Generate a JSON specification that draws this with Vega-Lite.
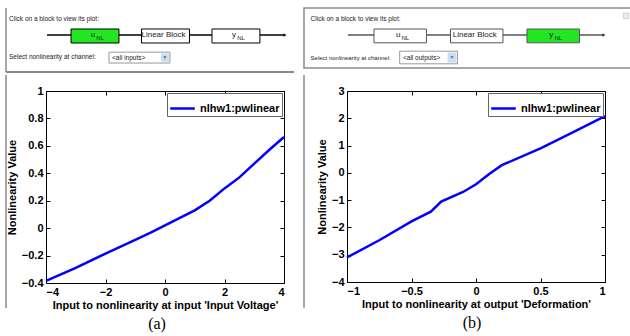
{
  "$schema": "https://vega.github.io/schema/vega-lite/v6.json",
  "padding": {"left": 4, "top": 7, "right": 0, "bottom": 0},
  "background": "white",
  "config": {
    "font": "Liberation Sans",
    "view": {"stroke": "black", "strokeWidth": 1},
    "axis": {
      "grid": false, "domain": false,
      "labelFont": "Liberation Sans", "labelFontSize": 11, "labelFontWeight": "bold", "labelColor": "black",
      "titleFont": "Liberation Sans", "titleFontSize": 11, "titleFontWeight": "bold", "titleColor": "black",
      "tickColor": "black", "tickSize": -4, "labelPadding": 7, "format": "~g"
    },
    "text": {"font": "Liberation Sans", "fontSize": 7, "color": "#222"}
  },
  "resolve": {"scale": {"color": "independent", "fill": "independent"}, "legend": {"color": "independent"}},
  "spacing": 0,
  "vconcat": [
    {
      "spacing": 1,
      "resolve": {"scale": {"fill": "independent"}},
      "hconcat": [
        {
          "width": 256, "height": 64,
          "view": {"stroke": null},
          "resolve": {"scale": {"x": "independent"}},
          "layer": [
            {
              "data": {"values": [{"edge": "left"}]},
              "mark": {"type": "rule", "color": "#8a8a8a", "strokeWidth": 1.5},
              "encoding": {
                "x": {"datum": -0.15625, "type": "quantitative", "scale": {"domain": [0, 1], "nice": false, "zero": false}, "axis": null},
                "y": {"datum": 0, "type": "quantitative", "scale": {"domain": [0, 1], "nice": false, "zero": false}, "axis": null},
                "y2": {"datum": 1}
              }
            },
            {
              "data": {"values": [{"edge": "bottom"}]},
              "mark": {"type": "rule", "color": "#8a8a8a", "strokeWidth": 2},
              "encoding": {
                "x": {"datum": -0.15625, "type": "quantitative", "scale": {"domain": [0, 1], "nice": false, "zero": false}, "axis": null},
                "x2": {"datum": 0.969},
                "y": {"datum": 0, "type": "quantitative"}
              }
            },
            {
              "data": {"values": [{"seg": "wire"}]},
              "mark": {"type": "rule", "color": "black", "strokeWidth": 1.5},
              "encoding": {
                "x": {"datum": 0.004, "type": "quantitative", "scale": {"domain": [0, 1], "nice": false, "zero": false}, "axis": null},
                "x2": {"datum": 0.934},
                "y": {"datum": 0.578, "type": "quantitative"}
              }
            },
            {
              "data": {"values": [{"seg": "arrow"}]},
              "mark": {"type": "point", "shape": "triangle-right", "filled": true, "color": "black", "size": 14},
              "encoding": {
                "x": {"datum": 0.934, "type": "quantitative", "scale": {"domain": [0, 1], "nice": false, "zero": false}, "axis": null},
                "y": {"datum": 0.578, "type": "quantitative"}
              }
            },
            {
              "data": {"values": [
                {"block": "u", "main": "u", "sub": "NL", "sel": "yes"},
                {"block": "lin", "main": "Linear Block", "sub": "", "sel": "no"},
                {"block": "y", "main": "y", "sub": "NL", "sel": "no"}
              ]},
              "layer": [
                {
                  "mark": {"type": "bar", "stroke": "black", "strokeWidth": 1},
                  "encoding": {
                    "x": {"field": "block", "type": "nominal", "sort": null, "scale": {"paddingInner": 0.32, "paddingOuter": 0.476, "align": 0.373}, "axis": null},
                    "y": {"datum": 0.453, "type": "quantitative"},
                    "y2": {"datum": 0.672},
                    "fill": {"field": "sel", "type": "nominal", "scale": {"domain": ["yes", "no"], "range": ["#22e622", "white"]}, "legend": null}
                  }
                },
                {
                  "mark": {"type": "text", "fontSize": 8, "dx": -2, "dy": -1},
                  "encoding": {
                    "x": {"field": "block", "type": "nominal", "sort": null, "axis": null},
                    "y": {"datum": 0.562, "type": "quantitative"},
                    "text": {"field": "main"}
                  }
                },
                {
                  "mark": {"type": "text", "fontSize": 6, "dx": 5, "dy": 2},
                  "encoding": {
                    "x": {"field": "block", "type": "nominal", "sort": null, "axis": null},
                    "y": {"datum": 0.562, "type": "quantitative"},
                    "text": {"field": "sub"}
                  }
                }
              ]
            },
            {
              "data": {"values": [{"t": "Click on a block to view its plot:"}]},
              "mark": {"type": "text", "align": "left", "fontSize": 6.5},
              "encoding": {
                "x": {"datum": -0.1445, "type": "quantitative", "scale": {"domain": [0, 1], "nice": false, "zero": false}, "axis": null},
                "y": {"datum": 0.828, "type": "quantitative"},
                "text": {"field": "t"}
              }
            },
            {
              "data": {"values": [{"t": "Select nonlinearity at channel:"}]},
              "mark": {"type": "text", "align": "left", "fontSize": 6.5},
              "encoding": {
                "x": {"datum": -0.1445, "type": "quantitative", "scale": {"domain": [0, 1], "nice": false, "zero": false}, "axis": null},
                "y": {"datum": 0.23, "type": "quantitative"},
                "text": {"field": "t"}
              }
            },
            {
              "data": {"values": [{"part": "box"}]},
              "mark": {"type": "rect", "fill": "white", "stroke": "#999", "strokeWidth": 1},
              "encoding": {
                "x": {"datum": 0.246, "type": "quantitative", "scale": {"domain": [0, 1], "nice": false, "zero": false}, "axis": null},
                "x2": {"datum": 0.484},
                "y": {"datum": 0.14, "type": "quantitative"},
                "y2": {"datum": 0.31}
              }
            },
            {
              "data": {"values": [{"part": "button"}]},
              "mark": {"type": "rect", "fill": "#c8dff5"},
              "encoding": {
                "x": {"datum": 0.449, "type": "quantitative", "scale": {"domain": [0, 1], "nice": false, "zero": false}, "axis": null},
                "x2": {"datum": 0.48},
                "y": {"datum": 0.16, "type": "quantitative"},
                "y2": {"datum": 0.29}
              }
            },
            {
              "data": {"values": [{"part": "caret"}]},
              "mark": {"type": "point", "shape": "triangle-down", "filled": true, "color": "#333", "size": 10},
              "encoding": {
                "x": {"datum": 0.4645, "type": "quantitative", "scale": {"domain": [0, 1], "nice": false, "zero": false}, "axis": null},
                "y": {"datum": 0.225, "type": "quantitative"}
              }
            },
            {
              "data": {"values": [{"t": "<all inputs>"}]},
              "mark": {"type": "text", "align": "left", "fontSize": 6.5},
              "encoding": {
                "x": {"datum": 0.258, "type": "quantitative", "scale": {"domain": [0, 1], "nice": false, "zero": false}, "axis": null},
                "y": {"datum": 0.225, "type": "quantitative"},
                "text": {"field": "t"}
              }
            }
          ]
        },
        {
          "width": 330, "height": 60,
          "view": {"stroke": "#8a8a8a", "strokeWidth": 1.5},
          "resolve": {"scale": {"x": "independent"}},
          "layer": [
            {
              "data": {"values": [{"seg": "wire"}]},
              "mark": {"type": "rule", "color": "black", "strokeWidth": 1},
              "encoding": {
                "x": {"datum": 0.133, "type": "quantitative", "scale": {"domain": [0, 1], "nice": false, "zero": false}, "axis": null},
                "x2": {"datum": 0.909},
                "y": {"datum": 0.55, "type": "quantitative", "scale": {"domain": [0, 1], "nice": false, "zero": false}, "axis": null}
              }
            },
            {
              "data": {"values": [{"seg": "arrow"}]},
              "mark": {"type": "point", "shape": "triangle-right", "filled": true, "color": "black", "size": 12},
              "encoding": {
                "x": {"datum": 0.909, "type": "quantitative", "scale": {"domain": [0, 1], "nice": false, "zero": false}, "axis": null},
                "y": {"datum": 0.55, "type": "quantitative"}
              }
            },
            {
              "data": {"values": [
                {"block": "u", "main": "u", "sub": "NL", "sel": "no"},
                {"block": "lin", "main": "Linear Block", "sub": "", "sel": "no"},
                {"block": "y", "main": "y", "sub": "NL", "sel": "yes"}
              ]},
              "layer": [
                {
                  "mark": {"type": "bar", "stroke": "#555", "strokeWidth": 1},
                  "encoding": {
                    "x": {"field": "block", "type": "nominal", "sort": null, "scale": {"paddingInner": 0.314, "paddingOuter": 0.814, "align": 0.562}, "axis": null},
                    "y": {"datum": 0.42, "type": "quantitative"},
                    "y2": {"datum": 0.65},
                    "fill": {"field": "sel", "type": "nominal", "scale": {"domain": ["yes", "no"], "range": ["#22e622", "white"]}, "legend": null}
                  }
                },
                {
                  "mark": {"type": "text", "fontSize": 8, "dx": -2, "dy": -1},
                  "encoding": {
                    "x": {"field": "block", "type": "nominal", "sort": null, "axis": null},
                    "y": {"datum": 0.535, "type": "quantitative"},
                    "text": {"field": "main"}
                  }
                },
                {
                  "mark": {"type": "text", "fontSize": 6, "dx": 5, "dy": 2},
                  "encoding": {
                    "x": {"field": "block", "type": "nominal", "sort": null, "axis": null},
                    "y": {"datum": 0.535, "type": "quantitative"},
                    "text": {"field": "sub"}
                  }
                }
              ]
            },
            {
              "data": {"values": [{"t": "Click on a block to view its plot:"}]},
              "mark": {"type": "text", "align": "left", "fontSize": 6.5},
              "encoding": {
                "x": {"datum": 0.02, "type": "quantitative", "scale": {"domain": [0, 1], "nice": false, "zero": false}, "axis": null},
                "y": {"datum": 0.817, "type": "quantitative"},
                "text": {"field": "t"}
              }
            },
            {
              "data": {"values": [{"t": "Select nonlinearity at channel:"}]},
              "mark": {"type": "text", "align": "left", "fontSize": 6},
              "encoding": {
                "x": {"datum": 0.02, "type": "quantitative", "scale": {"domain": [0, 1], "nice": false, "zero": false}, "axis": null},
                "y": {"datum": 0.175, "type": "quantitative"},
                "text": {"field": "t"}
              }
            },
            {
              "data": {"values": [{"part": "box"}]},
              "mark": {"type": "rect", "fill": "white", "stroke": "#999", "strokeWidth": 1},
              "encoding": {
                "x": {"datum": 0.29, "type": "quantitative", "scale": {"domain": [0, 1], "nice": false, "zero": false}, "axis": null},
                "x2": {"datum": 0.465},
                "y": {"datum": 0.07, "type": "quantitative"},
                "y2": {"datum": 0.28}
              }
            },
            {
              "data": {"values": [{"part": "button"}]},
              "mark": {"type": "rect", "fill": "#c8dff5"},
              "encoding": {
                "x": {"datum": 0.435, "type": "quantitative", "scale": {"domain": [0, 1], "nice": false, "zero": false}, "axis": null},
                "x2": {"datum": 0.462},
                "y": {"datum": 0.09, "type": "quantitative"},
                "y2": {"datum": 0.26}
              }
            },
            {
              "data": {"values": [{"part": "caret"}]},
              "mark": {"type": "point", "shape": "triangle-down", "filled": true, "color": "#333", "size": 10},
              "encoding": {
                "x": {"datum": 0.4485, "type": "quantitative", "scale": {"domain": [0, 1], "nice": false, "zero": false}, "axis": null},
                "y": {"datum": 0.175, "type": "quantitative"}
              }
            },
            {
              "data": {"values": [{"t": "<all outputs>"}]},
              "mark": {"type": "text", "align": "left", "fontSize": 6.5},
              "encoding": {
                "x": {"datum": 0.3, "type": "quantitative", "scale": {"domain": [0, 1], "nice": false, "zero": false}, "axis": null},
                "y": {"datum": 0.175, "type": "quantitative"},
                "text": {"field": "t"}
              }
            },
            {
              "data": {"values": [{"part": "corner"}]},
              "mark": {"type": "point", "shape": "square", "filled": true, "color": "#e6e6e6", "stroke": "#888", "strokeWidth": 0.5, "size": 30},
              "encoding": {
                "x": {"datum": 0.976, "type": "quantitative", "scale": {"domain": [0, 1], "nice": false, "zero": false}, "axis": null},
                "y": {"datum": 0.87, "type": "quantitative"}
              }
            }
          ]
        }
      ]
    },
    {
      "spacing": 9,
      "resolve": {"scale": {"color": "independent"}, "legend": {"color": "independent"}},
      "hconcat": [
        {
          "width": 238, "height": 192,
          "data": {"values": [
            {"x": -4, "y": -0.385, "series": "nlhw1:pwlinear"},
            {"x": -3, "y": -0.29, "series": "nlhw1:pwlinear"},
            {"x": -2, "y": -0.185, "series": "nlhw1:pwlinear"},
            {"x": -1, "y": -0.085, "series": "nlhw1:pwlinear"},
            {"x": -0.5, "y": -0.035, "series": "nlhw1:pwlinear"},
            {"x": 0, "y": 0.02, "series": "nlhw1:pwlinear"},
            {"x": 0.5, "y": 0.075, "series": "nlhw1:pwlinear"},
            {"x": 1, "y": 0.13, "series": "nlhw1:pwlinear"},
            {"x": 1.5, "y": 0.2, "series": "nlhw1:pwlinear"},
            {"x": 2, "y": 0.29, "series": "nlhw1:pwlinear"},
            {"x": 2.5, "y": 0.37, "series": "nlhw1:pwlinear"},
            {"x": 3, "y": 0.47, "series": "nlhw1:pwlinear"},
            {"x": 3.5, "y": 0.57, "series": "nlhw1:pwlinear"},
            {"x": 4, "y": 0.665, "series": "nlhw1:pwlinear"}
          ]},
          "title": {"text": "(a)", "orient": "bottom", "font": "Liberation Serif", "fontSize": 16, "fontWeight": "normal", "color": "black", "anchor": "middle", "frame": "group", "dx": -8, "offset": 6},
          "resolve": {"axis": {"x": "independent", "y": "independent"}},
          "layer": [
            {
              "mark": {"type": "line", "strokeWidth": 2.5},
              "encoding": {
                "x": {"field": "x", "type": "quantitative", "scale": {"domain": [-4, 4], "nice": false, "zero": false},
                      "axis": {"orient": "bottom", "values": [-4, -2, 0, 2, 4], "title": "Input to nonlinearity at input 'Input Voltage'", "titlePadding": 2}},
                "y": {"field": "y", "type": "quantitative", "scale": {"domain": [-0.4, 1], "nice": false, "zero": false},
                      "axis": {"orient": "left", "values": [-0.4, -0.2, 0, 0.2, 0.4, 0.6, 0.8, 1], "title": "Nonlinearity Value", "titlePadding": 4}},
                "color": {"field": "series", "type": "nominal", "scale": {"range": ["#0000ff"]},
                          "legend": {"orient": "top-right", "offset": 2, "title": null, "strokeColor": "#666", "fillColor": "white", "padding": 2,
                                     "symbolType": "stroke", "symbolSize": 600, "symbolStrokeWidth": 2.5,
                                     "labelFont": "Liberation Sans", "labelFontSize": 11, "labelFontWeight": "bold", "labelColor": "black"}}
              }
            },
            {
              "mark": {"type": "line", "opacity": 0},
              "encoding": {
                "x": {"field": "x", "type": "quantitative", "axis": {"orient": "top", "values": [-4, -2, 0, 2, 4], "labels": false, "title": null}},
                "y": {"field": "y", "type": "quantitative", "axis": {"orient": "right", "values": [-0.4, -0.2, 0, 0.2, 0.4, 0.6, 0.8, 1], "labels": false, "title": null}}
              }
            },
            {
              "data": {"values": [{"edge": "panel-left"}]},
              "mark": {"type": "rule", "color": "#8a8a8a", "strokeWidth": 1.5},
              "encoding": {
                "x": {"datum": -5.3445, "type": "quantitative", "axis": null},
                "y": {"datum": 1.1167, "type": "quantitative", "axis": null},
                "y2": {"datum": -0.5823}
              }
            },
            {
              "data": {"values": [{"edge": "panel-divider"}]},
              "mark": {"type": "rule", "color": "#8a8a8a", "strokeWidth": 1.5},
              "encoding": {
                "x": {"datum": 4.6723, "type": "quantitative", "axis": null},
                "y": {"datum": 1.1167, "type": "quantitative", "axis": null},
                "y2": {"datum": -0.5823}
              }
            }
          ]
        },
        {
          "width": 258, "height": 191,
          "data": {"values": [
            {"x": -1, "y": -3.1, "series": "nlhw1:pwlinear"},
            {"x": -0.75, "y": -2.47, "series": "nlhw1:pwlinear"},
            {"x": -0.5, "y": -1.78, "series": "nlhw1:pwlinear"},
            {"x": -0.35, "y": -1.42, "series": "nlhw1:pwlinear"},
            {"x": -0.27, "y": -1.05, "series": "nlhw1:pwlinear"},
            {"x": -0.1, "y": -0.7, "series": "nlhw1:pwlinear"},
            {"x": 0, "y": -0.42, "series": "nlhw1:pwlinear"},
            {"x": 0.1, "y": -0.05, "series": "nlhw1:pwlinear"},
            {"x": 0.2, "y": 0.28, "series": "nlhw1:pwlinear"},
            {"x": 0.5, "y": 0.9, "series": "nlhw1:pwlinear"},
            {"x": 0.75, "y": 1.48, "series": "nlhw1:pwlinear"},
            {"x": 1, "y": 2.08, "series": "nlhw1:pwlinear"}
          ]},
          "title": {"text": "(b)", "orient": "bottom", "font": "Liberation Serif", "fontSize": 16, "fontWeight": "normal", "color": "black", "anchor": "middle", "frame": "group", "dx": -4, "offset": 6},
          "resolve": {"axis": {"x": "independent", "y": "independent"}},
          "layer": [
            {
              "mark": {"type": "line", "strokeWidth": 2.5},
              "encoding": {
                "x": {"field": "x", "type": "quantitative", "scale": {"domain": [-1, 1], "nice": false, "zero": false},
                      "axis": {"orient": "bottom", "values": [-1, -0.5, 0, 0.5, 1], "title": "Input to nonlinearity at output 'Deformation'", "titlePadding": 2}},
                "y": {"field": "y", "type": "quantitative", "scale": {"domain": [-4, 3], "nice": false, "zero": false},
                      "axis": {"orient": "left", "values": [-4, -3, -2, -1, 0, 1, 2, 3], "title": "Nonlinearity Value", "titlePadding": 4}},
                "color": {"field": "series", "type": "nominal", "scale": {"range": ["#0000ff"]},
                          "legend": {"orient": "top-right", "offset": 2, "title": null, "strokeColor": "#666", "fillColor": "white", "padding": 2,
                                     "symbolType": "stroke", "symbolSize": 600, "symbolStrokeWidth": 2.5,
                                     "labelFont": "Liberation Sans", "labelFontSize": 11, "labelFontWeight": "bold", "labelColor": "black"}}
              }
            },
            {
              "mark": {"type": "line", "opacity": 0},
              "encoding": {
                "x": {"field": "x", "type": "quantitative", "axis": {"orient": "top", "values": [-1, -0.5, 0, 0.5, 1], "labels": false, "title": null}},
                "y": {"field": "y", "type": "quantitative", "axis": {"orient": "right", "values": [-4, -3, -2, -1, 0, 1, 2, 3], "labels": false, "title": null}}
              }
            }
          ]
        }
      ]
    }
  ]
}
